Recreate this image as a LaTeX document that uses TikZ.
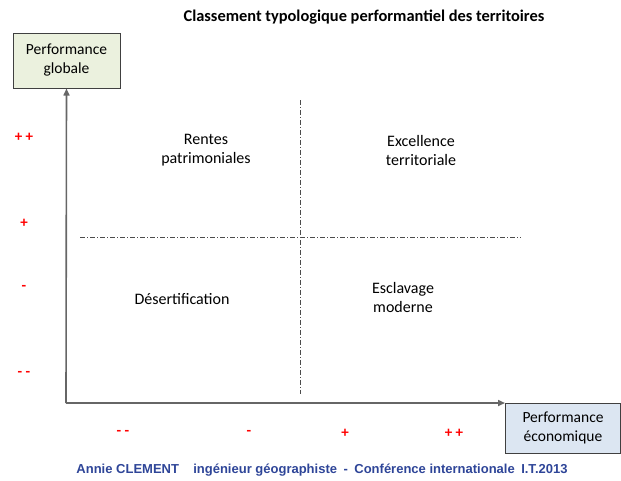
\documentclass[tikz,border=0pt]{standalone}
\usepackage{fontspec}
\setmainfont{Carlito}
\newfontfamily\arialfont{Liberation Sans}
\usetikzlibrary{arrows.meta}
\definecolor{boxgreen}{HTML}{EBF1DE}
\definecolor{boxblue}{HTML}{DCE6F2}
\definecolor{footblue}{HTML}{2E4598}
\tikzset{
  axisbox/.style={draw=black!75, line width=1pt, minimum width=107pt, minimum height=55pt, align=center, font=\fontsize{15.5}{19}\selectfont, inner sep=0pt},
  axisline/.style={draw=black!60, line width=1.6pt, -{Triangle[length=7pt,width=6pt]}},
  midline/.style={draw=black!70, line width=0.8pt, dash pattern=on 5pt off 2pt on 1pt off 2pt},
  quad/.style={align=center, font=\fontsize{16}{19}\selectfont},
  signlbl/.style={text=red, font=\bfseries\fontsize{15}{17}\selectfont},
  footstyle/.style={font=\arialfont\bfseries\fontsize{13}{15}\selectfont},
}
\newcommand{\foottext}{Annie CLEMENT\hspace{1.1em}ingénieur géographiste\hspace{0.5em}-\hspace{0.5em}Conférence internationale\hspace{0.5em}I.T.2013}
\begin{document}
\begin{tikzpicture}[x=1pt,y=-1pt]
\useasboundingbox (0,0) rectangle (621,480);
\node[font=\bfseries\fontsize{16.4}{19}\selectfont] (title) at (364,17) {Classement typologique performantiel des territoires};
\node[axisbox, fill=boxgreen] (yb) at (66.5,60.5) {Performance\\globale};
\node[axisbox, fill=boxblue, minimum width=115pt, minimum height=50pt] (xb) at (563,428) {Performance\\économique};
\coordinate (o) at (66,403);
\draw[axisline] (o) -- (yb.south);
\draw[axisline] (o) -- (o -| xb.west);
\coordinate (vt) at (300,100);
\coordinate (vb) at (300,394);
\coordinate (hl) at (80,237);
\coordinate (hr) at (521,237);
\draw[midline] (vt) -- (vb);
\draw[midline] (hl) -- (hr);
\node[quad] (q1) at (206,150) {Rentes\\patrimoniales};
\node[quad] (q2) at (421,150) {Excellence\\territoriale};
\node[quad] (q3) at (182,299) {Désertification};
\node[quad] (q4) at (403,297) {Esclavage\\moderne};
\node[signlbl] (y1) at (24,137) {+ +};
\node[signlbl] (y2) at (24,223) {+};
\node[signlbl] (y3) at (24,288) {-};
\node[signlbl] (y4) at (24,374) {- -};
\node[signlbl] (x1) at (123,433) {- -};
\node[signlbl] (x2) at (249,433) {-};
\node[signlbl] (x3) at (345,433) {+};
\node[signlbl] (x4) at (454,433) {+ +};
\node[text=footblue, footstyle] (foot) at (322,470) {\foottext};
\end{tikzpicture}
\end{document}
